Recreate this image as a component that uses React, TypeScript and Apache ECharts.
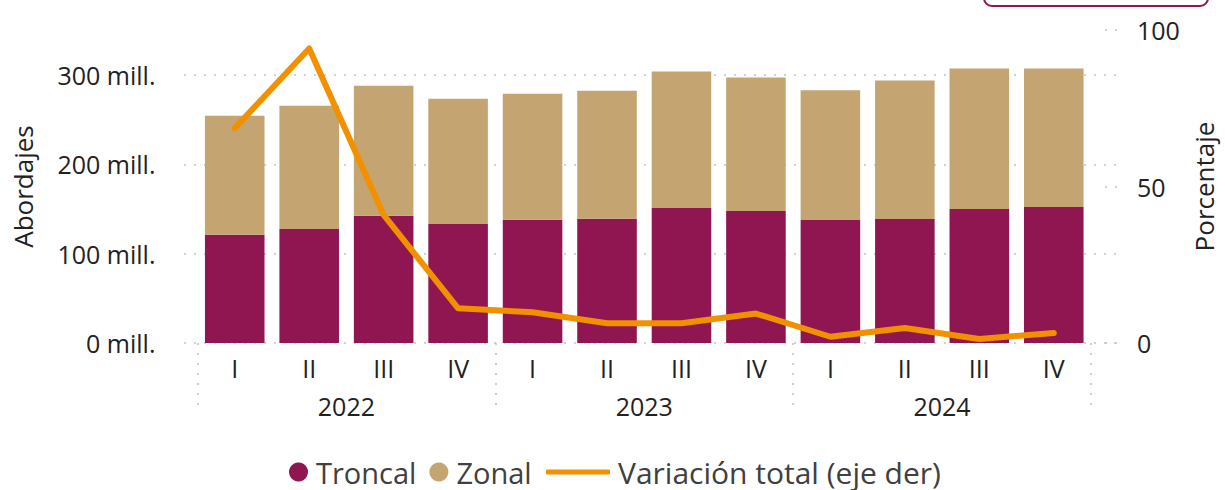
import React, { useEffect, useRef } from "react";
import * as echarts from "echarts";

const quarters = ["I", "II", "III", "IV", "I", "II", "III", "IV", "I", "II", "III", "IV"];
const years = ["2022", "2023", "2024"];
const troncal = [121, 127.6, 142.2, 133.2, 137.7, 138.8, 150.9, 147.6, 137.5, 138.6, 149.8, 152.0];
const zonal = [133, 137.7, 145.5, 139.9, 141, 143.3, 152.8, 149.4, 145, 155, 157.2, 155];
const variacion = [68.6, 94.1, 40.9, 11.1, 9.8, 6.3, 6.3, 9.4, 2.0, 4.8, 1.3, 3.2];
const leftTicks = [0, 100, 200, 300];
const rightTicks = [0, 50, 100];

const PURPLE = "#8F1651";
const TAN = "#C4A470";
const ORANGE = "#F29100";
const FONT = "'Segoe UI', 'Open Sans', sans-serif";
const DOT = { color: "#c4c4c4", width: 1.6, type: [2, 8] as number[] };

export default function App() {
  const ref = useRef<HTMLDivElement>(null);
  useEffect(() => {
    if (!ref.current) return;
    const chart = echarts.init(ref.current, null, { renderer: "svg", width: 1225, height: 490 });
    chart.setOption({
      animation: false,
      textStyle: { fontFamily: FONT },
      graphic: [
        {
          type: "rect",
          shape: { x: 984, y: -20, width: 224, height: 26, r: 8 },
          style: { fill: "none", stroke: PURPLE, lineWidth: 2 },
        },
      ],
      grid: [
        { left: 197.5, width: 900, top: 30, height: 313 },
        { left: 184, width: 933, top: 75, height: 268 },
      ],
      legend: [
        {
          data: ["Troncal", "Zonal"],
          left: 289,
          top: 455,
          padding: 0,
          icon: "circle",
          itemWidth: 19,
          itemHeight: 19,
          itemGap: 13,
          textStyle: { fontSize: 29, lineHeight: 34, color: "#404040", fontFamily: FONT, padding: [0, 0, 0, 3] },
        },
        {
          data: ["Variación total (eje der)"],
          left: 546,
          top: 455,
          padding: 0,
          icon: "roundRect",
          itemWidth: 64,
          itemHeight: 5,
          textStyle: { fontSize: 30, lineHeight: 34, color: "#404040", fontFamily: FONT, padding: [0, 0, 0, 3] },
        },
      ],
      xAxis: [
        {
          type: "category",
          gridIndex: 0,
          data: quarters,
          axisLine: { show: false },
          axisTick: { show: false },
          axisLabel: { color: "#222", fontSize: 25, margin: 12, interval: 0, fontFamily: FONT },
        },
        {
          type: "category",
          gridIndex: 0,
          data: years,
          position: "bottom",
          offset: 12,
          axisLine: { show: false },
          axisTick: { show: true, length: 70, lineStyle: DOT },
          axisLabel: { color: "#222", fontSize: 25, margin: 38, fontFamily: FONT },
        },
        { type: "value", gridIndex: 1, min: 0, max: 1, show: false },
      ],
      yAxis: [
        {
          type: "value",
          gridIndex: 0,
          min: 0,
          max: 350,
          interval: 100,
          name: "Abordajes",
          nameLocation: "middle",
          nameRotate: 90,
          nameGap: 162,
          nameTextStyle: { fontSize: 26, color: "#222", fontFamily: FONT },
          axisLine: { show: false },
          axisTick: { show: false },
          splitLine: { show: false },
          axisLabel: {
            color: "#222",
            fontSize: 25,
            margin: 42,
            fontFamily: FONT,
            formatter: (v: number) => (leftTicks.includes(v) ? `${v} mill.` : ""),
          },
        },
        {
          type: "value",
          gridIndex: 0,
          position: "right",
          offset: 14,
          min: 0,
          max: 100,
          interval: 50,
          name: "Porcentaje",
          nameLocation: "middle",
          nameRotate: 90,
          nameGap: 86,
          nameTextStyle: { fontSize: 26, color: "#222", fontFamily: FONT },
          axisLine: { show: false },
          axisTick: { show: true, length: 14, lineStyle: DOT },
          splitLine: { show: false },
          axisLabel: {
            color: "#222",
            fontSize: 25,
            margin: 32,
            fontFamily: FONT,
            formatter: (v: number) => (rightTicks.includes(v) ? `${v}` : ""),
          },
        },
        {
          type: "value",
          gridIndex: 1,
          min: 0,
          max: 300,
          interval: 100,
          axisLine: { show: false },
          axisTick: { show: false },
          axisLabel: { show: false },
          splitLine: { show: true, lineStyle: DOT },
        },
      ],
      series: [
        {
          name: "Troncal",
          type: "bar",
          stack: "total",
          xAxisIndex: 0,
          yAxisIndex: 0,
          barCategoryGap: "20%",
          data: troncal,
          itemStyle: { color: PURPLE },
        },
        {
          name: "Zonal",
          type: "bar",
          stack: "total",
          xAxisIndex: 0,
          yAxisIndex: 0,
          barCategoryGap: "20%",
          data: zonal,
          itemStyle: { color: TAN },
        },
        {
          name: "Variación total (eje der)",
          type: "line",
          xAxisIndex: 0,
          yAxisIndex: 1,
          data: variacion,
          symbol: "none",
          z: 5,
          itemStyle: { color: ORANGE },
          lineStyle: { color: ORANGE, width: 6, cap: "round", join: "round" },
        },
      ],
    });
    return () => chart.dispose();
  }, []);
  return <div ref={ref} style={{ width: 1225, height: 490, position: "absolute", left: 0, top: 0 }} />;
}
